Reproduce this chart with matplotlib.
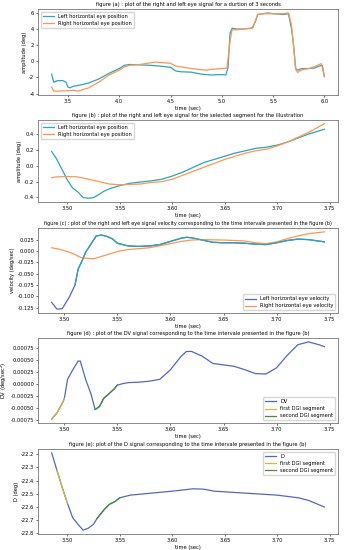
import matplotlib
matplotlib.use("Agg")
import matplotlib.pyplot as plt

# ── Data ────────────────────────────────────────────────────────────────────

# figure (a): 3 second recording
t_a_left = [3.34, 3.36, 3.38, 3.40, 3.45, 3.48, 3.50, 3.52, 3.55, 3.60, 3.70, 3.80,
            3.90, 4.00, 4.05, 4.10, 4.20, 4.30, 4.40, 4.50, 4.55, 4.60, 4.70, 4.80,
            4.90, 5.00, 5.04, 5.06, 5.08, 5.10, 5.15, 5.20, 5.28, 5.30, 5.33, 5.35,
            5.40, 5.45, 5.50, 5.60, 5.65, 5.68, 5.70, 5.72, 5.74, 5.78, 5.85, 5.90,
            5.95, 5.98, 6.00]
a_left = [-1.6, -2.6, -2.5, -2.4, -2.4, -2.6, -3.2, -3.3, -3.1, -3.0, -2.7, -2.2,
          -1.5, -0.9, -0.5, -0.4, -0.45, -0.5, -0.6, -0.75, -1.2, -1.3, -1.35, -1.6,
          -1.7, -1.65, -1.7, -0.8, 3.5, 4.1, 4.0, 4.0, 4.1, 4.2, 5.0, 5.8,
          5.9, 6.0, 5.9, 5.8, 5.9, 4.0, 2.0, -0.9, -1.1, -0.9, -0.9, -0.85,
          -0.6, -0.5, -1.9]
t_a_right = [3.34, 3.36, 3.40, 3.50, 3.55, 3.60, 3.70, 3.80, 3.90, 4.00, 4.05, 4.10,
             4.20, 4.30, 4.35, 4.40, 4.50, 4.55, 4.60, 4.70, 4.80, 4.85, 4.90, 5.00,
             5.05, 5.08, 5.10, 5.15, 5.20, 5.30, 5.35, 5.40, 5.50, 5.60, 5.65, 5.68,
             5.72, 5.74, 5.76, 5.80, 5.85, 5.90, 5.95, 5.97, 6.00]
a_right = [-3.2, -3.7, -3.7, -3.65, -3.6, -3.7, -3.3, -2.6, -1.7, -1.1, -0.7, -0.5,
           -0.4, -0.2, -0.1, -0.15, -0.25, -0.6, -0.7, -0.9, -1.05, -1.1, -1.0, -0.9,
           -0.85, 2.5, 3.9, 3.9, 4.0, 4.1, 5.8, 5.9, 5.9, 5.9, 6.0, 4.5,
           -1.0, -1.4, -1.2, -1.0, -0.9, -0.7, -0.4, -0.3, -1.8]

# figure (b): selected segment
t_b_left = [3.485, 3.49, 3.495, 3.50, 3.505, 3.51, 3.515, 3.52, 3.525, 3.528, 3.535,
            3.54, 3.55, 3.56, 3.57, 3.58, 3.59, 3.60, 3.61, 3.62, 3.63, 3.64, 3.65,
            3.66, 3.67, 3.68, 3.69, 3.70, 3.71, 3.72, 3.73, 3.745]
b_left = [0.18, 0.08, -0.05, -0.18, -0.28, -0.33, -0.40, -0.41, -0.40, -0.38, -0.32,
          -0.29, -0.25, -0.22, -0.205, -0.19, -0.17, -0.13, -0.08, -0.02, 0.04, 0.08, 0.12,
          0.16, 0.19, 0.22, 0.235, 0.26, 0.30, 0.35, 0.40, 0.46]
t_b_right = [3.485, 3.49, 3.50, 3.51, 3.52, 3.53, 3.54, 3.55, 3.56, 3.57, 3.58, 3.59,
             3.60, 3.61, 3.62, 3.63, 3.64, 3.65, 3.66, 3.67, 3.68, 3.69, 3.70, 3.71,
             3.72, 3.73, 3.745]
b_right = [-0.15, -0.14, -0.135, -0.14, -0.17, -0.20, -0.23, -0.24, -0.235, -0.23, -0.21, -0.20,
           -0.17, -0.12, -0.07, -0.02, 0.03, 0.08, 0.12, 0.16, 0.19, 0.21, 0.25, 0.30,
           0.36, 0.42, 0.53]

# figure (c): velocities
t_c_left = [3.488, 3.493, 3.498, 3.505, 3.51, 3.513, 3.517, 3.52, 3.525, 3.53, 3.535,
            3.54, 3.545, 3.55, 3.56, 3.57, 3.58, 3.59, 3.60, 3.61, 3.615, 3.62, 3.63,
            3.64, 3.65, 3.66, 3.67, 3.68, 3.69, 3.70, 3.71, 3.72, 3.73, 3.745]
c_left = [-0.113, -0.128, -0.127, -0.10, -0.075, -0.04, -0.02, -0.003, 0.015, 0.033, 0.035,
          0.032, 0.027, 0.017, 0.011, 0.010, 0.011, 0.014, 0.021, 0.028, 0.030, 0.029, 0.024,
          0.019, 0.018, 0.018, 0.017, 0.015, 0.014, 0.018, 0.023, 0.026, 0.025, 0.020]
C_SPLIT = 4   # index where the teal overlay starts
t_c_right = [3.488, 3.495, 3.505, 3.51, 3.515, 3.52, 3.528, 3.535, 3.545, 3.55, 3.56,
             3.58, 3.60, 3.61, 3.62, 3.63, 3.65, 3.67, 3.68, 3.69, 3.70, 3.71, 3.72,
             3.73, 3.745]
c_right = [0.007, 0.004, -0.003, -0.008, -0.014, -0.016, -0.017, -0.012, -0.005, -0.001, 0.003,
           0.007, 0.016, 0.021, 0.024, 0.025, 0.024, 0.022, 0.018, 0.016, 0.020, 0.027, 0.033,
           0.038, 0.042]

# figure (d): DV signal
t_d = [3.488, 3.493, 3.498, 3.50, 3.503, 3.508, 3.513, 3.515, 3.52, 3.525, 3.529,
       3.533, 3.537, 3.543, 3.547, 3.55, 3.555, 3.56, 3.57, 3.58, 3.59, 3.60, 3.61,
       3.615, 3.62, 3.63, 3.64, 3.65, 3.66, 3.67, 3.68, 3.69, 3.70, 3.71, 3.72,
       3.73, 3.74, 3.745]
dv = [-0.00073, -0.00060, -0.00040, -0.00030, 0.00010, 0.00030, 0.00048, 0.00048, 0.00010,
      -0.00020, -0.00053, -0.00047, -0.00030, -0.00018, -0.00010, -0.00002, 0.00001, 0.00003,
      0.00004, 0.00006, 0.00010, 0.00030, 0.00058, 0.00068, 0.00068, 0.00058, 0.00043,
      0.00040, 0.00037, 0.00030, 0.00022, 0.00021, 0.00034, 0.00060, 0.00082, 0.00088,
      0.00082, 0.00078]
D_SEG1 = (0, 3)    # first DGI segment, index range
D_SEG2 = (10, 15)  # second DGI segment

# figure (e): D signal
t_e = [3.485, 3.49, 3.495, 3.50, 3.505, 3.51, 3.515, 3.52, 3.525, 3.528, 3.535,
       3.54, 3.545, 3.55, 3.56, 3.58, 3.60, 3.62, 3.63, 3.64, 3.66, 3.68, 3.70,
       3.72, 3.73, 3.745]
d_sig = [-22.19, -22.32, -22.45, -22.57, -22.68, -22.73, -22.775, -22.76, -22.73, -22.69,
         -22.62, -22.58, -22.56, -22.53, -22.51, -22.495, -22.48, -22.462, -22.465, -22.48,
         -22.49, -22.50, -22.51, -22.53, -22.55, -22.60]
E_SEG1 = (1, 3)
E_SEG2 = (9, 13)

# ── Style ───────────────────────────────────────────────────────────────────

TEAL   = '#2aa6b6'
ORANGE = '#ff9650'
BLUE   = '#5068c4'
YELLOW = '#c8c030'
GREEN  = '#4a8c3a'
FS = 3.7
LW = 0.9

plt.rcParams.update({
    'font.size': FS,
    'axes.titlesize': FS,
    'axes.labelsize': FS,
    'xtick.labelsize': FS,
    'ytick.labelsize': FS,
    'legend.fontsize': FS,
    'axes.unicode_minus': False,
    'xtick.major.size': 1.5,
    'ytick.major.size': 1.5,
    'xtick.major.width': 0.4,
    'ytick.major.width': 0.4,
    'xtick.major.pad': 1.2,
    'ytick.major.pad': 1.2,
    'axes.titlepad': 2.5,
    'axes.labelpad': 1.5,
})

fig = plt.figure(figsize=(3.49, 5.5), dpi=100)

L, W = 38 / 349, 300 / 349
rects = [(9, 95), (120, 202), (228, 313), (338, 423), (449, 534)]
axes = [fig.add_axes([L, 1 - b / 550, W, (b - t) / 550]) for t, b in rects]

for ax in axes:
    for s in ax.spines.values():
        s.set_color('#777777')
        s.set_linewidth(0.6)
    ax.set_xlabel('time (sec)')

leg_kw = dict(frameon=True, borderpad=0.4, handlelength=2.2, labelspacing=0.4,
              edgecolor='#cccccc', fancybox=True)

# (a)
ax = axes[0]
ax.plot(t_a_left, a_left, color=TEAL, lw=LW, label='Left horizontal eye position')
ax.plot(t_a_right, a_right, color=ORANGE, lw=LW, label='Right horizontal eye position')
ax.set_yticks([-4, -2, 0, 2, 4, 6])
ax.set_xticks([3.5, 4.0, 4.5, 5.0, 5.5, 6.0])
ax.set_ylabel('amplitude (deg)')
ax.set_title('figure (a) : plot of the right and left eye signal for a durtion of 3 seconds')
ax.legend(loc='upper left', **leg_kw)

# (b)
ax = axes[1]
ax.plot(t_b_left, b_left, color=TEAL, lw=LW, label='Left horizontal eye position')
ax.plot(t_b_right, b_right, color=ORANGE, lw=LW, label='Right horizontal eye position')
ax.set_yticks([-0.4, -0.2, 0.0, 0.2, 0.4])
ax.set_xticks([3.50, 3.55, 3.60, 3.65, 3.70, 3.75])
ax.set_ylabel('amplitude (deg)')
ax.set_title('figure (b) : plot of the right and left eye signal for the selected segment for the illustration')
ax.legend(loc='upper left', **leg_kw)

# (c)
ax = axes[2]
ax.plot(t_c_left, c_left, color=BLUE, lw=LW, label='Left horizontal eye velocity')
ax.plot(t_c_right, c_right, color=ORANGE, lw=LW, label='Right horizontal eye velocity')
ax.plot(t_c_left[C_SPLIT:], c_left[C_SPLIT:], color=TEAL, lw=LW)
ax.set_yticks([-0.125, -0.100, -0.075, -0.050, -0.025, 0.000, 0.025])
ax.set_xticks([3.50, 3.55, 3.60, 3.65, 3.70, 3.75])
ax.set_ylabel('velocity (deg/sec)')
ax.set_title('figure (c) : plot of the right and left eye signal velocity corresponding '
             'to the time intervale presented in the figure (b)', fontsize=3.5)
ax.legend(loc='lower right', **leg_kw)

# (d)
ax = axes[3]
ax.plot(t_d, dv, color=BLUE, lw=LW, label='DV')
s0, s1 = D_SEG1
ax.plot(t_d[s0:s1 + 1], dv[s0:s1 + 1], color=YELLOW, lw=LW, label='first DGI segment')
s0, s1 = D_SEG2
ax.plot(t_d[s0:s1 + 1], dv[s0:s1 + 1], color=GREEN, lw=LW, label='second DGI segment')
ax.set_yticks([-0.00075, -0.00050, -0.00025, 0.0, 0.00025, 0.00050, 0.00075])
ax.set_yticklabels(['-0.00075', '-0.00050', '-0.00025', '0.00000',
                    '0.00025', '0.00050', '0.00075'])
ax.set_xticks([3.50, 3.55, 3.60, 3.65, 3.70, 3.75])
ax.set_ylabel('DV (deg/sec$^2$)', labelpad=1.0)
ax.set_title('figure (d) : plot of the DV signal corresponding to the time intervale '
             'presented in the figure (b)')
ax.legend(loc='lower right', **leg_kw)

# (e)
ax = axes[4]
ax.plot(t_e, d_sig, color=BLUE, lw=LW, label='D')
s0, s1 = E_SEG1
ax.plot(t_e[s0:s1 + 1], d_sig[s0:s1 + 1], color=YELLOW, lw=LW, label='first DGI segment')
s0, s1 = E_SEG2
ax.plot(t_e[s0:s1 + 1], d_sig[s0:s1 + 1], color=GREEN, lw=LW, label='second DGI segment')
ax.set_yticks([-22.8, -22.7, -22.6, -22.5, -22.4, -22.3, -22.2])
ax.set_xticks([3.50, 3.55, 3.60, 3.65, 3.70, 3.75])
ax.set_ylabel('D (deg)')
ax.set_title('figure (e): plot of the D signal corresponding to the time intervale '
             'presented in the figure (b)')
ax.legend(loc='upper right', **leg_kw)

fig.savefig('out.png', dpi=100, facecolor='white')
